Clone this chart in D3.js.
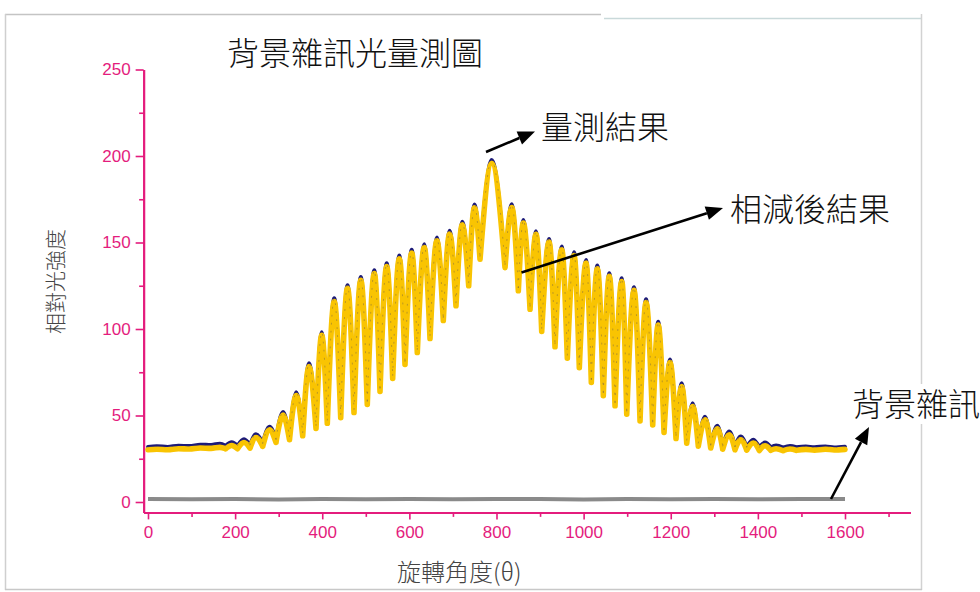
<!DOCTYPE html>
<html>
<head>
<meta charset="utf-8">
<script src="https://cdn.jsdelivr.net/npm/d3@7"></script>
<style>
  html, body { margin: 0; padding: 0; background: #fff; }
  svg { display: block; }
</style>
</head>
<body>
<svg id="chart" width="980" height="592"></svg>
<script>
// ---- Data: rotation angle (θ) vs relative light intensity ----

// Fringe minima / maxima positions (shared by both traces)
const troughAngle = [178, 205.5, 234.2, 263.3, 293.8, 324.8, 355.1, 385.7, 411.6, 442.4,
  472.9, 503.4, 532.6, 561.7, 590, 618.2, 647.4, 677.9, 707, 736.2,
  762.2, 819.6, 850.1, 877, 903.8, 934.3, 962.6, 990.1, 1017.7, 1045.2,
  1072.1, 1099, 1129.5, 1158.6, 1184.6, 1212.1, 1236.7, 1263.3, 1291.8, 1319.3,
  1347.5, 1374.4, 1403.3, 1429.5, 1457.7, 1488];
const peakAngle = [192.1, 220.4, 247.9, 278.9, 309.9, 340.4, 369.6, 398.8, 427.5, 458,
  488.5, 519.5, 548, 576.9, 605.4, 634.1, 663.2, 692.4, 721.5, 749.5,
  789, 835, 861.6, 890.7, 920.6, 949.7, 978, 1005.5, 1031.5, 1059,
  1087.5, 1115.7, 1143.3, 1171.2, 1198.3, 1225.2, 1250.5, 1278.7, 1307, 1334.5,
  1360.6, 1389.6, 1416.4, 1441.7, 1473.8];

// 量測結果 (measured)
const measuredTrough = [32.6, 32.6, 33.0, 34.0, 36.3, 37.8, 40.1, 44.3, 47.3, 50.6,
  53.5, 58.2, 65.7, 73.2, 81.3, 88.2, 96.3, 106.7, 115.2, 126.8,
  142.1, 137.3, 123.9, 113.2, 100.4, 91.5, 84.9, 79.5, 70.9, 63.2,
  57.4, 52.6, 48.7, 46.3, 42.0, 38.5, 35.8, 34.1, 33.0, 32.4,
  32.0, 31.8, 31.6, 31.7, 31.5, 31.7];
const measuredPeak = [34.6, 36.3, 39.2, 43.6, 52.1, 63.5, 80.2, 98.2, 117.8, 125.4,
  130.1, 134.0, 138.0, 142.5, 145.8, 149.0, 152.9, 156.8, 162.1, 172.0,
  197.7, 172.1, 163.1, 156.6, 152.1, 147.7, 144.4, 140.0, 136.7, 132.3,
  129.4, 124.2, 117.2, 104.2, 82.5, 68.7, 57.1, 49.4, 44.2, 40.8,
  37.9, 36.0, 34.4, 32.7, 32.5];

// 相減後結果 (background subtracted)
const subtractedTrough = [30.8, 30.8, 31.2, 32.2, 34.5, 36.0, 38.3, 42.5, 45.5, 48.8,
  51.7, 56.4, 63.9, 71.4, 79.5, 86.4, 94.5, 104.9, 113.4, 125.0,
  140.3, 135.5, 122.1, 111.4, 98.6, 89.7, 83.1, 77.7, 69.1, 61.4,
  55.6, 50.8, 46.9, 44.5, 40.2, 36.7, 34.0, 32.3, 31.2, 30.6,
  30.2, 30.0, 29.8, 29.9, 29.7, 29.9];
const subtractedPeak = [32.7, 34.4, 37.3, 41.7, 50.2, 61.6, 78.3, 96.3, 115.9, 123.5,
  128.2, 132.1, 136.1, 140.6, 143.9, 147.1, 151.0, 154.9, 160.2, 170.1,
  195.8, 170.2, 161.2, 154.7, 150.2, 145.8, 142.5, 138.1, 134.8, 130.4,
  127.5, 122.3, 115.3, 102.3, 80.6, 66.8, 55.2, 47.5, 42.3, 38.9,
  36.0, 34.1, 32.5, 30.8, 30.6];

// Flat stretches before and after the fringe region
const flatLeftAngle = [0, 20, 45, 70, 95, 120, 145, 165];
const measuredFlatLeft = [31.8, 32.3, 31.9, 32.6, 32.4, 33.2, 33.0, 33.8];
const subtractedFlatLeft = [30.2, 30.5, 30.2, 30.8, 30.6, 31.2, 31.0, 31.6];
const flatRightAngle = [1510, 1530, 1555, 1575, 1600];
const measuredFlatRight = [32.1, 31.7, 32.2, 31.6, 32.0];
const subtractedFlatRight = [30.4, 30.0, 30.5, 30.1, 30.4];

// 背景雜訊 (background noise)
const backgroundAngle = [0, 100, 200, 300, 400, 500, 600, 700, 800, 900, 1000, 1100, 1200, 1300, 1400, 1500, 1600];
const backgroundValue = [1.8, 1.6, 1.7, 1.5, 1.8, 1.6, 1.7, 1.6, 1.8, 1.7, 1.5, 1.7, 1.6, 1.8, 1.6, 1.7, 1.7];

// Axis ticks
const xTicks = [0, 200, 400, 600, 800, 1000, 1200, 1400, 1600];
const xMinorTicks = [100, 300, 500, 700, 900, 1100, 1300, 1500, 1700];
const yTicks = [0, 50, 100, 150, 200, 250];
const yMinorTicks = [25, 75, 125, 175, 225];

// ---- Drawing ----
const svg = d3.select("#chart");
const pink = "#e41c7d";
const cjk = "'Noto Sans CJK TC', 'Noto Sans CJK SC', sans-serif";

const x = d3.scaleLinear().domain([-10, 1750]).range([143.64, 910.34]);
const y = d3.scaleLinear().domain([-6, 250]).range([512.38, 69.5]);

// page frame
const frame = svg.append("g").attr("fill", "none");
frame.append("path").attr("d", "M5,14.5H601").attr("stroke", "#c4c4c4").attr("stroke-width", 1.5);
frame.append("path").attr("d", "M604,18.5H922").attr("stroke", "#c9d9da").attr("stroke-width", 1.5);
frame.append("path").attr("d", "M5.5,14V590").attr("stroke", "#cfcfcf").attr("stroke-width", 1.5);
frame.append("path").attr("d", "M921.5,14V590").attr("stroke", "#d2d2d2").attr("stroke-width", 1.5);
frame.append("path").attr("d", "M5,589.5H922").attr("stroke", "#c8c8c8").attr("stroke-width", 1.5);

// title
svg.append("text").attr("x", 227).attr("y", 65)
  .attr("font-family", cjk).attr("font-size", 32).attr("font-weight", 300)
  .attr("fill", "#111").text("背景雜訊光量測圖");

// axes
const fmt = d3.format("d");
function styleAxis(g, width) {
  g.select(".domain").attr("stroke", pink).attr("stroke-width", width);
  g.selectAll(".tick line").attr("stroke", pink).attr("stroke-width", 1.6);
  g.selectAll(".tick text").attr("fill", pink)
    .attr("font-family", "'Liberation Sans', Arial, sans-serif").attr("font-size", 17);
}
const gxMinor = svg.append("g").attr("transform", `translate(0,${y(-6)})`)
  .call(d3.axisBottom(x).tickValues(xMinorTicks).tickSize(4.5).tickFormat("").tickSizeOuter(0));
styleAxis(gxMinor, 2);
const gx = svg.append("g").attr("transform", `translate(0,${y(-6)})`)
  .call(d3.axisBottom(x).tickValues(xTicks).tickFormat(fmt).tickSize(7).tickPadding(7).tickSizeOuter(0));
styleAxis(gx, 2);

const gyMinor = svg.append("g").attr("transform", `translate(${x(-10)},0)`)
  .call(d3.axisLeft(y).tickValues(yMinorTicks).tickSize(4.5).tickFormat("").tickSizeOuter(0));
styleAxis(gyMinor, 2);
const gy = svg.append("g").attr("transform", `translate(${x(-10)},0)`)
  .call(d3.axisLeft(y).tickValues(yTicks).tickFormat(fmt).tickSize(8).tickPadding(5).tickSizeOuter(0));
styleAxis(gy, 2);

// axis titles
svg.append("text").attr("transform", "translate(63,281.5) rotate(-90)")
  .attr("text-anchor", "middle").attr("font-family", cjk).attr("font-size", 21)
  .attr("font-weight", 300).attr("fill", "#444").text("相對光強度");
svg.append("text").attr("x", 397).attr("y", 581)
  .attr("font-family", cjk).attr("font-size", 24).attr("font-weight", 300)
  .attr("fill", "#444").text("旋轉角度(θ)");

// traces: each fringe is one arch from minimum to maximum to minimum
const line = d3.line().x(d => x(d[0])).y(d => y(d[1])).curve(d3.curveMonotoneX);
function tracePath(flatL, trough, peak, flatR) {
  let d = line(flatLeftAngle.map((a, i) => [a, flatL[i]]).concat([[troughAngle[0], trough[0]]]));
  for (let i = 0; i < peakAngle.length; i++) {
    d += line([[troughAngle[i], trough[i]], [peakAngle[i], peak[i]], [troughAngle[i + 1], trough[i + 1]]]);
  }
  const last = troughAngle.length - 1;
  d += line([[troughAngle[last], trough[last]]].concat(flatRightAngle.map((a, i) => [a, flatR[i]])));
  return d;
}
const plot = svg.append("g").attr("fill", "none")
  .attr("stroke-linecap", "round").attr("stroke-linejoin", "round");

const measuredD = tracePath(measuredFlatLeft, measuredTrough, measuredPeak, measuredFlatRight);
const subtractedD = tracePath(subtractedFlatLeft, subtractedTrough, subtractedPeak, subtractedFlatRight);

plot.append("path").attr("d", measuredD).attr("stroke", "#1c1a78").attr("stroke-width", 3.8);
plot.append("path").attr("d", subtractedD).attr("stroke", "#f9c402").attr("stroke-width", 5.6);
plot.append("path").attr("d", measuredD).attr("stroke", "#3b3863").attr("stroke-width", 1)
  .attr("stroke-dasharray", "1 7").attr("opacity", 0.35);

plot.append("path")
  .attr("d", d3.line().x(d => x(d[0])).y(d => y(d[1]))(backgroundAngle.map((a, i) => [a, backgroundValue[i]])))
  .attr("stroke", "#8a8a8a").attr("stroke-width", 4).attr("stroke-linecap", "butt");

// annotations
function arrow(x1, y1, x2, y2) {
  const ang = Math.atan2(y2 - y1, x2 - x1);
  const len = 17, half = 7;
  const bx = x2 - len * Math.cos(ang), by = y2 - len * Math.sin(ang);
  const g = svg.append("g");
  g.append("line").attr("x1", x1).attr("y1", y1).attr("x2", bx).attr("y2", by)
    .attr("stroke", "#000").attr("stroke-width", 2.6);
  g.append("polygon").attr("fill", "#000").attr("points", [
    [x2, y2],
    [bx + half * Math.sin(ang), by - half * Math.cos(ang)],
    [bx - half * Math.sin(ang), by + half * Math.cos(ang)]
  ].map(p => p.join(",")).join(" "));
}
arrow(486, 152, 535, 131.5);
arrow(521.5, 272.5, 723, 208);
arrow(831, 499, 869, 427);

svg.append("rect").attr("x", 850).attr("y", 384).attr("width", 130).attr("height", 40).attr("fill", "#fff");
const note = svg.append("g").attr("font-family", cjk).attr("font-size", 32)
  .attr("font-weight", 300).attr("fill", "#111");
note.append("text").attr("x", 541).attr("y", 139).text("量測結果");
note.append("text").attr("x", 730).attr("y", 221).text("相減後結果");
note.append("text").attr("x", 852).attr("y", 416).text("背景雜訊");
</script>
</body>
</html>
